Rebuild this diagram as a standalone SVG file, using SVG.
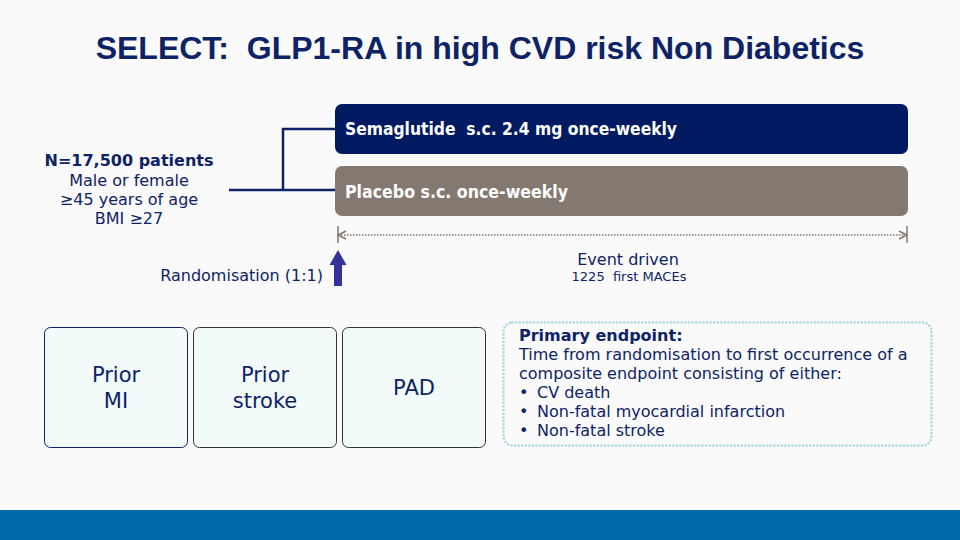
<svg xmlns="http://www.w3.org/2000/svg" width="960" height="540" viewBox="0 0 960 540">
<defs>
<style>
.t{font-family:"DejaVu Sans",Verdana,sans-serif;fill:#0d2366}
.b{font-weight:bold}
.w{fill:#ffffff}
.box{fill:#f2fafa;rx:6;ry:6}
</style>
<marker id="chev" viewBox="0 0 10 10" refX="9" refY="5" markerWidth="10" markerHeight="10" markerUnits="userSpaceOnUse" orient="auto-start-reverse">
<path d="M1,1 L9,5 L1,9" fill="none" stroke="#7f7770" stroke-width="1.5"/>
</marker>
</defs>
<rect x="0" y="0" width="960" height="540" fill="#fafafa"/>
<rect x="0" y="510" width="960" height="30" fill="#0069aa"/>
<text xml:space="preserve" x="480" y="59" text-anchor="middle" font-family="'Liberation Sans',Arial,sans-serif" font-weight="bold" font-size="32" fill="#0d2366">SELECT:  GLP1-RA in high CVD risk Non Diabetics</text>

<g id="connectors">
<path d="M229,190 H283 V129 H335 M283,190 H335" fill="none" stroke="#0d2366" stroke-width="2.5"/>
<line x1="338" y1="235" x2="907" y2="235" stroke="#7f7770" stroke-width="1.5" stroke-dasharray="1.5 1.5" marker-start="url(#chev)" marker-end="url(#chev)"/>
<line x1="338" y1="226" x2="338" y2="243" stroke="#7f7770" stroke-width="1.5"/>
<line x1="907" y1="226" x2="907" y2="243" stroke="#7f7770" stroke-width="1.5"/>
<path d="M334,286 V265 H329.5 L338,250 L346.5,265 H342 V286 Z" fill="#32329a"/>
</g>

<g id="population">
<text class="t b" x="129" y="166" text-anchor="middle" font-size="16">N=17,500 patients</text>
<text class="t" x="129" y="186" text-anchor="middle" font-size="16">Male or female</text>
<text class="t" x="129" y="204.5" text-anchor="middle" font-size="16">≥45 years of age</text>
<text class="t" x="129" y="223.5" text-anchor="middle" font-size="16">BMI ≥27</text>
</g>

<g id="semaglutide">
<rect x="335" y="104" width="573" height="50" rx="7" fill="#001a62"/>
<text xml:space="preserve" class="t b w" x="345" y="135" font-size="17" textLength="332" lengthAdjust="spacingAndGlyphs">Semaglutide  s.c. 2.4 mg once-weekly</text>
</g>
<g id="placebo">
<rect x="335" y="166" width="573" height="50" rx="7" fill="#837970"/>
<text class="t b w" x="345" y="197.5" font-size="17" textLength="223" lengthAdjust="spacingAndGlyphs">Placebo s.c. once-weekly</text>
</g>

<g id="randomisation">
<text class="t" x="323" y="281" text-anchor="end" font-size="16">Randomisation (1:1)</text>
</g>
<g id="event">
<text class="t" x="628" y="265" text-anchor="middle" font-size="16">Event driven</text>
<text xml:space="preserve" class="t" x="629" y="281" text-anchor="middle" font-size="13">1225  first MACEs</text>
</g>

<g id="prior-mi">
<rect class="box" x="44.5" y="327.5" width="143" height="120" stroke="#0d2366"/>
<text class="t" x="116" y="382" text-anchor="middle" font-size="21">Prior</text>
<text class="t" x="116" y="408" text-anchor="middle" font-size="21">MI</text>
</g>
<g id="prior-stroke">
<rect class="box" x="193.5" y="327.5" width="143" height="120" stroke="#333333"/>
<text class="t" x="265" y="382" text-anchor="middle" font-size="21">Prior</text>
<text class="t" x="265" y="408" text-anchor="middle" font-size="21">stroke</text>
</g>
<g id="pad">
<rect class="box" x="342.5" y="327.5" width="143" height="120" stroke="#333333"/>
<text class="t" x="414" y="395" text-anchor="middle" font-size="21">PAD</text>
</g>

<g id="primary-endpoint">
<rect x="503.5" y="322.5" width="428" height="123" rx="9" fill="none" stroke="#a8d8e0" stroke-width="2.5" stroke-dasharray="0.1 3.5" stroke-linecap="round"/>
<text class="t b" x="519" y="341" font-size="16">Primary endpoint:</text>
<text class="t" x="519" y="359.5" font-size="16">Time from randomisation to first occurrence of a</text>
<text class="t" x="519" y="378.5" font-size="16">composite endpoint consisting of either:</text>
<text class="t" x="519" y="397.5" font-size="16">•</text>
<text class="t" x="537" y="397.5" font-size="16">CV death</text>
<text class="t" x="519" y="416.5" font-size="16">•</text>
<text class="t" x="537" y="416.5" font-size="16">Non-fatal myocardial infarction</text>
<text class="t" x="519" y="435.5" font-size="16">•</text>
<text class="t" x="537" y="435.5" font-size="16">Non-fatal stroke</text>
</g>
</svg>
